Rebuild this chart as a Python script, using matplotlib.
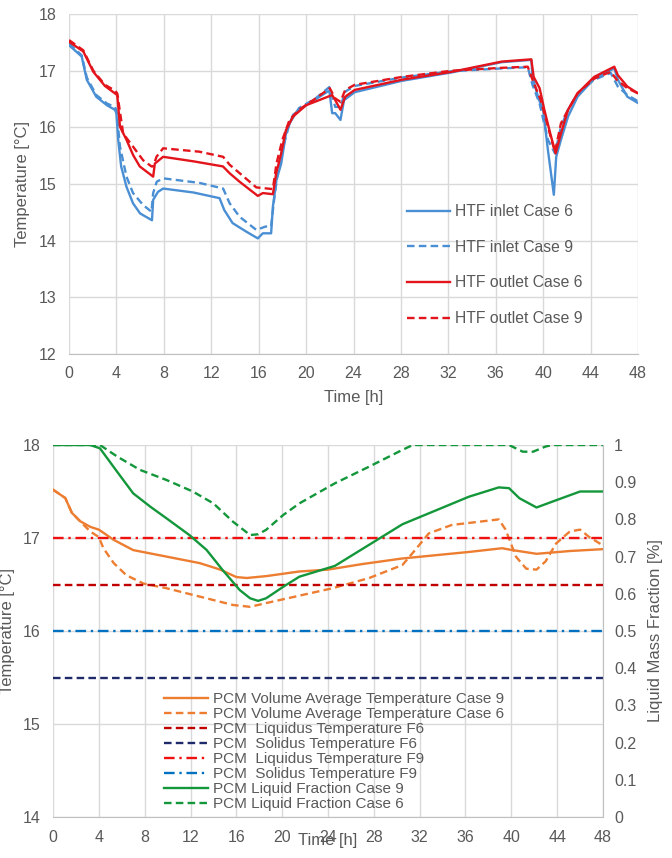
import matplotlib
matplotlib.use("Agg")
import matplotlib.pyplot as plt

plt.rcParams['font.family'] = ['Liberation Sans', 'DejaVu Sans']

# ---------------- Top chart data (HTF temperatures) ----------------
t_out6 = [0, 1.2, 2.05, 3.03, 3.87, 4.07, 4.3, 4.85, 5.41, 5.97, 7.1, 7.24, 7.94, 10.5, 12.99, 13.55,
          14.39, 15.93, 16.35, 17.2, 17.48, 17.9, 18.3, 18.9, 20.0, 22.2, 22.46, 22.9, 23.3, 24.1,
          28.07, 32.3, 36.5, 39.0, 39.2, 39.7, 40.1, 40.6, 41.05, 41.5, 42.1, 42.9, 44.3, 46.0,
          46.3, 47.1, 48]
T_out6 = [17.51, 17.34, 16.98, 16.73, 16.6, 16.57, 16.01, 15.78, 15.51, 15.31, 15.13, 15.36, 15.48,
          15.4, 15.31, 15.19, 15.04, 14.79, 14.84, 14.82, 15.19, 15.54, 15.95, 16.19, 16.39, 16.57,
          16.48, 16.31, 16.54, 16.66, 16.84, 16.98, 17.16, 17.2, 16.89, 16.69, 16.31, 15.89, 15.54,
          15.89, 16.31, 16.6, 16.89, 17.07, 16.92, 16.72, 16.6]

t_out9 = [0, 1.2, 2.05, 3.03, 3.87, 4.07, 4.57, 5.4, 6.25, 6.96, 7.1, 7.38, 7.94, 11.0, 13.0, 13.55,
          14.4, 15.8, 17.2, 17.5, 18.0, 18.6, 19.4, 20.8, 22.0, 22.46, 22.9, 23.3, 24.1, 28.1, 32.3,
          36.5, 38.7, 39.1, 39.8, 40.7, 41.0, 41.5, 42.1, 42.9, 44.3, 45.7, 46.2, 47.1, 48]
T_out9 = [17.54, 17.36, 17.0, 16.75, 16.65, 16.6, 15.89, 15.66, 15.42, 15.31, 15.31, 15.48, 15.63,
          15.57, 15.48, 15.34, 15.19, 14.94, 14.91, 15.36, 15.78, 16.13, 16.31, 16.51, 16.69, 16.51,
          16.45, 16.66, 16.75, 16.89, 17.0, 17.05, 17.07, 16.84, 16.48, 15.78, 15.57, 16.07, 16.31,
          16.6, 16.86, 16.98, 16.84, 16.69, 16.6]

t_in6 = [0, 1.07, 1.5, 2.3, 3.2, 3.87, 4.0, 4.15, 4.4, 4.85, 5.4, 6.0, 6.5, 7.0, 7.1, 7.5, 7.94, 10.5,
         12.7, 13.1, 13.8, 14.95, 15.93, 16.35, 17.05, 17.2, 17.5, 17.9, 18.3, 18.9, 20.0, 21.96,
         22.2, 22.46, 22.9, 23.2, 24.1, 28.07, 32.3, 36.5, 39.0, 39.1, 39.6, 40.0, 40.4, 40.9, 41.1,
         41.5, 42.1, 42.9, 44.3, 46.0, 46.3, 47.1, 48]
T_in6 = [17.45, 17.25, 16.84, 16.54, 16.39, 16.31, 16.25, 15.78, 15.31, 14.95, 14.66, 14.48, 14.42,
         14.36, 14.72, 14.86, 14.92, 14.85, 14.75, 14.54, 14.31, 14.16, 14.04, 14.13, 14.13, 14.6,
         15.07, 15.36, 15.89, 16.22, 16.39, 16.65, 16.25, 16.25, 16.13, 16.48, 16.62, 16.82, 16.97,
         17.15, 17.19, 16.89, 16.51, 16.31, 15.6, 14.81, 15.48, 15.78, 16.19, 16.54, 16.86, 17.04,
         16.84, 16.54, 16.43]

t_in9 = [0, 1.07, 1.5, 2.3, 3.2, 3.87, 4.0, 4.3, 4.85, 5.4, 6.25, 6.96, 7.1, 7.4, 7.94, 11.0, 13.0,
         13.55, 14.4, 15.8, 16.6, 17.05, 17.3, 17.6, 18.0, 18.6, 19.4, 20.8, 21.96, 22.46, 22.9,
         23.3, 24.1, 28.1, 32.3, 36.5, 38.7, 39.1, 39.7, 40.4, 41.0, 41.5, 42.1, 42.9, 44.3, 45.7,
         46.3, 47.1, 48]
T_in9 = [17.48, 17.27, 16.88, 16.57, 16.42, 16.36, 16.3, 15.66, 15.13, 14.84, 14.63, 14.51, 14.84,
         15.04, 15.1, 15.02, 14.92, 14.66, 14.42, 14.19, 14.25, 14.25, 14.72, 15.19, 15.6, 16.07,
         16.34, 16.51, 16.71, 16.36, 16.36, 16.63, 16.73, 16.88, 16.99, 17.04, 17.06, 16.75, 16.42,
         15.78, 15.54, 16.01, 16.31, 16.6, 16.84, 16.96, 16.72, 16.57, 16.46]

top_labels = ["HTF inlet Case 6", "HTF inlet Case 9", "HTF outlet Case 6", "HTF outlet Case 9"]

# ---------------- Bottom chart data (PCM) ----------------
t_avg9 = [0, 1.07, 1.65, 2.38, 3.25, 4.0, 5.3, 7.0, 9.9, 12.8, 14.6, 16.0, 16.9, 18.6, 21.5, 24.0,
          27.0, 30.5, 36.3, 39.2, 40.1, 42.2, 45.1, 48]
T_avg9 = [17.52, 17.43, 17.27, 17.18, 17.12, 17.09, 16.98, 16.87, 16.8, 16.73, 16.66, 16.58, 16.57,
          16.59, 16.64, 16.66, 16.72, 16.78, 16.85, 16.89, 16.87, 16.83, 16.86, 16.88]

t_avg6 = [0, 1.07, 1.65, 2.2, 3.25, 4.0, 4.4, 5.3, 6.4, 7.9, 9.9, 12.8, 15.7, 17.2, 18.6, 21.5, 24.4,
          27.6, 30.5, 31.6, 32.8, 34.8, 38.9, 39.5, 40.4, 41.3, 42.2, 43.0, 43.9, 45.1, 46.0, 46.8, 48]
T_avg6 = [17.52, 17.43, 17.27, 17.2, 17.07, 17.01, 16.89, 16.73, 16.6, 16.51, 16.46, 16.37, 16.28,
          16.26, 16.3, 16.38, 16.46, 16.57, 16.71, 16.87, 17.05, 17.14, 17.2, 17.09, 16.8, 16.67,
          16.66, 16.75, 16.94, 17.07, 17.09, 17.01, 16.92]

T_liq_F6 = 16.5
T_sol_F6 = 15.5
T_liq_F9 = 17.0
T_sol_F9 = 16.0

t_lf9 = [0, 3.25, 4.1, 5.6, 7.0, 8.5, 9.9, 11.9, 13.4, 14.8, 16.3, 17.2, 17.9, 18.6, 20.1, 21.5, 23.0,
         24.6, 30.5, 36.3, 38.9, 39.8, 40.7, 42.2, 43.6, 46.0, 48]
f_lf9 = [1.0, 1.0, 0.991, 0.928, 0.87, 0.834, 0.803, 0.758, 0.718, 0.664, 0.61, 0.588, 0.581, 0.588,
         0.619, 0.646, 0.66, 0.675, 0.787, 0.861, 0.886, 0.884, 0.857, 0.832, 0.848, 0.875, 0.875]

t_lf6 = [0, 4.1, 5.6, 7.6, 9.9, 12.2, 14.0, 15.7, 17.2, 17.9, 18.6, 20.1, 21.5, 24.6, 27.6, 30.5, 31.4,
         39.8, 41.0, 41.9, 43.0, 43.6, 48]
f_lf6 = [1.0, 1.0, 0.969, 0.933, 0.906, 0.875, 0.843, 0.794, 0.758, 0.76, 0.772, 0.812, 0.843, 0.897,
         0.942, 0.987, 1.0, 1.0, 0.982, 0.982, 0.996, 1.0, 1.0]

bottom_labels = ["PCM Volume Average Temperature Case 9",
                 "PCM Volume Average Temperature Case 6",
                 "PCM  Liquidus Temperature F6",
                 "PCM  Solidus Temperature F6",
                 "PCM  Liquidus Temperature F9",
                 "PCM  Solidus Temperature F9",
                 "PCM Liquid Fraction Case 9",
                 "PCM Liquid Fraction Case 6"]

x_ticks = list(range(0, 49, 4))

# ---------------- Styles ----------------
TICK_C = '#595959'
GRID_C = '#D9D9D9'
AXIS_C = '#BFBFBF'
BLUE = '#4A8FD4'
RED = '#E3141B'
ORANGE = '#ED7D31'
GREEN = '#13973A'
DKRED = '#C00000'
NAVY = '#1F2A6A'
MBLUE = '#0070C0'
BRED = '#F01010'
DASH = (3.2, 1.8)
DASHDOT = (4.5, 2, 1, 2)

W, H = 672, 858
fig = plt.figure(figsize=(W / 100, H / 100), dpi=100)

# ---------- Top axes ----------
ax1 = fig.add_axes([69 / W, 1 - 354 / H, (638 - 69) / W, (354 - 14) / H])
lw = 1.7
ax1.plot(t_in6, T_in6, color=BLUE, lw=lw, label=top_labels[0])
ax1.plot(t_in9, T_in9, color=BLUE, lw=lw, ls=(0, DASH), label=top_labels[1])
ax1.plot(t_out6, T_out6, color=RED, lw=lw, label=top_labels[2])
ax1.plot(t_out9, T_out9, color=RED, lw=lw, ls=(0, DASH), label=top_labels[3])
ax1.set_xlim(0, 48)
ax1.set_ylim(12, 18)
ax1.set_xticks(x_ticks)
ax1.set_yticks(range(12, 19))
ax1.grid(True, color=GRID_C, lw=1.0)
ax1.set_axisbelow(True)
for s in ['top', 'right', 'left']:
    ax1.spines[s].set_visible(False)
ax1.spines['bottom'].set_color(AXIS_C)
ax1.tick_params(length=0, labelsize=11.5, labelcolor=TICK_C, pad=9)
ax1.set_xlabel("Time [h]", fontsize=12, color=TICK_C, labelpad=6)
ax1.set_ylabel("Temperature [°C]", fontsize=12, color=TICK_C, labelpad=6)
leg1 = ax1.legend(loc='upper left', bbox_to_anchor=(407 / W, 1 - 204 / H),
                  bbox_transform=fig.transFigure, frameon=False, fontsize=11.3,
                  handlelength=2.75, handletextpad=0.3, labelspacing=1.32,
                  borderpad=0, borderaxespad=0)
for txt in leg1.get_texts():
    txt.set_color(TICK_C)

# ---------- Bottom axes ----------
ax3 = fig.add_axes([53 / W, 1 - 817 / H, (603 - 53) / W, (817 - 445) / H])
ax4 = ax3.twinx()
lw2 = 1.7
h1, = ax3.plot(t_avg9, T_avg9, color=ORANGE, lw=lw2)
h2, = ax3.plot(t_avg6, T_avg6, color=ORANGE, lw=lw2, ls=(0, DASH))
h3 = ax3.axhline(T_liq_F6, color=DKRED, lw=lw2, ls=(0, DASH))
h4 = ax3.axhline(T_sol_F6, color=NAVY, lw=lw2, ls=(0, DASH))
h5 = ax3.axhline(T_liq_F9, color=BRED, lw=lw2, ls=(0, DASHDOT))
h6 = ax3.axhline(T_sol_F9, color=MBLUE, lw=lw2, ls=(0, DASHDOT))
h7, = ax4.plot(t_lf9, f_lf9, color=GREEN, lw=lw2)
h8, = ax4.plot(t_lf6, f_lf6, color=GREEN, lw=lw2, ls=(0, DASH))
ax3.set_xlim(0, 48)
ax3.set_ylim(14, 18)
ax4.set_ylim(0, 1)
ax3.set_xticks(x_ticks)
ax3.set_yticks(range(14, 19))
ax4.set_yticks([i / 10 for i in range(0, 11)])
ax4.set_yticklabels(['0'] + ['%.1f' % (i / 10) for i in range(1, 10)] + ['1'])
ax3.grid(True, color=GRID_C, lw=1.0)
ax3.set_axisbelow(True)
for s in ['top', 'left']:
    ax3.spines[s].set_visible(False)
    ax4.spines[s].set_visible(False)
ax3.spines['right'].set_visible(False)
ax4.spines['bottom'].set_visible(False)
ax3.spines['bottom'].set_color(AXIS_C)
ax4.spines['right'].set_color(AXIS_C)
ax3.tick_params(length=0, labelsize=11.5, labelcolor=TICK_C, pad=9)
ax4.tick_params(length=0, labelsize=11.5, labelcolor=TICK_C, pad=8)
ax3.set_xlabel("Time [h]", fontsize=12, color=TICK_C, labelpad=-8)
ax3.set_ylabel("Temperature [°C]", fontsize=12, color=TICK_C)
ax4.set_ylabel("Liquid Mass Fraction [%]", fontsize=12, color=TICK_C, labelpad=8)
ax3.yaxis.set_label_coords(-38 / 550, 0.5)

handles = [h1, h2, h3, h4, h5, h6, h7, h8]
leg2 = ax4.legend(handles, bottom_labels, loc='upper left', bbox_to_anchor=(164 / W, 1 - 692 / H),
                  bbox_transform=fig.transFigure, frameon=False, fontsize=11,
                  handlelength=2.9, handletextpad=0.3, labelspacing=0.07,
                  borderpad=0, borderaxespad=0)
for txt in leg2.get_texts():
    txt.set_color(TICK_C)

fig.savefig("out.png", dpi=100)
